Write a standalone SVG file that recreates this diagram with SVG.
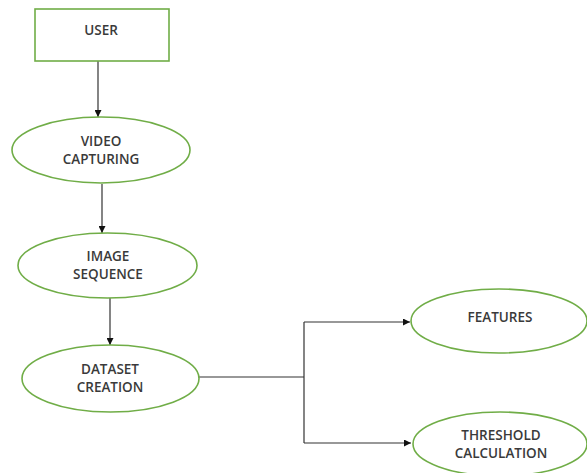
<svg xmlns="http://www.w3.org/2000/svg" width="587" height="473" viewBox="0 0 587 473">
<defs>
<style>
.n{fill:#fff;stroke:#70ad47;stroke-width:1.6}
.t{font-family:"Open Sans","Liberation Sans",sans-serif;font-size:13.5px;font-weight:600;fill:#3a3a3a;text-anchor:middle}
.c{fill:none;stroke:#333;stroke-width:1.2}
</style>
<marker id="a" viewBox="0 0 10 10" refX="10" refY="5" markerWidth="7" markerHeight="7" orient="auto" markerUnits="userSpaceOnUse"><path d="M0,0L10,5L0,10z" fill="#111"/></marker>
</defs>
<rect width="587" height="473" fill="#fff"/>
<g id="connectors">
<path class="c" d="M98,61V117" marker-end="url(#a)"/>
<path class="c" d="M102,184V233" marker-end="url(#a)"/>
<path class="c" d="M110,298V345" marker-end="url(#a)"/>
<path class="c" d="M199,377H304"/>
<path class="c" d="M304,322V443"/>
<path class="c" d="M304,322H410" marker-end="url(#a)"/>
<path class="c" d="M304,443H411" marker-end="url(#a)"/>
</g>
<g id="user"><rect class="n" x="35" y="9" width="134" height="52"/><text class="t" x="101" y="35">USER</text></g>
<g id="video"><ellipse class="n" cx="101" cy="150" rx="89" ry="33"/><text class="t" x="101" y="146">VIDEO</text><text class="t" x="101" y="164">CAPTURING</text></g>
<g id="image"><ellipse class="n" cx="107.5" cy="265.5" rx="89.5" ry="32.5"/><text class="t" x="108" y="261">IMAGE</text><text class="t" x="108" y="279">SEQUENCE</text></g>
<g id="dataset"><ellipse class="n" cx="110.5" cy="378.5" rx="88.5" ry="33.5"/><text class="t" x="110" y="374">DATASET</text><text class="t" x="110" y="392">CREATION</text></g>
<g id="features"><ellipse class="n" cx="499" cy="321" rx="88" ry="32"/><text class="t" x="500" y="322">FEATURES</text></g>
<g id="threshold"><ellipse class="n" cx="500" cy="444" rx="87" ry="32"/><text class="t" x="501" y="440">THRESHOLD</text><text class="t" x="501" y="458">CALCULATION</text></g>
</svg>
